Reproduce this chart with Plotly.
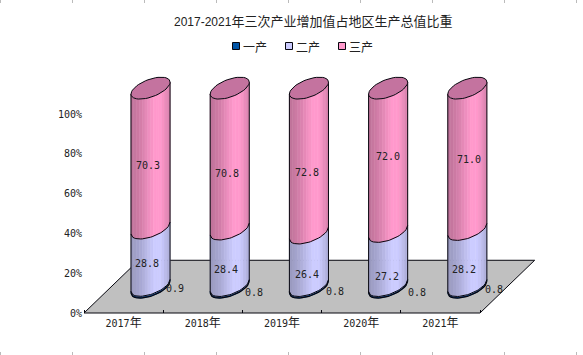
import math
import plotly.graph_objects as go

# ---------- data ----------
categories = ["2017年", "2018年", "2019年", "2020年", "2021年"]
primary = [0.9, 0.8, 0.8, 0.8, 0.8]
secondary = [28.8, 28.4, 26.4, 27.2, 28.2]
tertiary = [70.3, 70.8, 72.8, 72.0, 71.0]
series_names = ["一产", "二产", "三产"]
y_ticks = [0, 20, 40, 60, 80, 100]
title_digits = "2017-2021"
title_rest = "年三次产业增加值占地区生产总值比重"

# ---------- style / layout ----------
W, H = 583, 355
PX_LEFT, PX_RIGHT, PX_TOP, PX_BOTTOM = 84, 480, 114, 313
DEPTH_X, DEPTH_Y = 0.69, 26.5          # floor depth in axis units
CENTER_X, CENTER_Y = 0.34, 13.0        # cylinder position on the floor
ELL_A, ELL_B, ELL_C = 0.207, 0.134, 5.5  # ellipse axes in axis units
BASE_RGB = [(0, 70, 150), (204, 204, 255), (255, 153, 204)]
SHADE = [0.76, 0.78, 0.80, 0.83, 0.86, 0.90, 0.94, 0.97, 1.0, 1.0, 1.0, 0.97, 0.92, 0.87]
TOP_FILL = "#C4739F"
INK = "#06060e"
LABEL_FONT = dict(family="DejaVu Sans Mono, Noto Sans CJK SC", size=10, color="#222")
# per-label pixel nudges (primary, secondary, tertiary) as placed in the reference
LABEL_SHIFT = [
    [(24, 2), (-4, 7), (-3, 7)],
    [(24, 6), (-4, 12), (-3, 15)],
    [(26, 5), (-2, 15), (-2, 12)],
    [(29, 6), (-1, 18), (0, -3)],
    [(27, 3), (-3, 12), (2, 1)],
]

n_cat = len(categories)
PX_PER_CAT = (PX_RIGHT - PX_LEFT) / n_cat
PX_PER_PCT = (PX_BOTTOM - PX_TOP) / 100
X_RANGE = [-0.5 - PX_LEFT / PX_PER_CAT, -0.5 + (W - PX_LEFT) / PX_PER_CAT]
Y_RANGE = [-(H - PX_BOTTOM) / PX_PER_PCT, PX_BOTTOM / PX_PER_PCT]

T0 = math.atan2(ELL_B, ELL_A)


def paper_x(px):
    return px / W


def paper_y(py):
    return 1 - py / H


def rim(cx, level, phi):
    """Point on a cylinder rim; phi measured from the right-hand silhouette."""
    t = T0 + phi
    return (cx + ELL_A * math.cos(t) + ELL_B * math.sin(t),
            level + ELL_C * math.sin(t))


def front_arc(cx, level, s1, s2, n=5):
    """Front rim between silhouette fractions s1 > s2 (1 = right, -1 = left)."""
    pts = []
    for k in range(n + 1):
        s = s1 + (s2 - s1) * k / n
        pts.append(rim(cx, level, -math.acos(max(-1, min(1, s)))))
    return pts


fig = go.Figure()


def add(xs, ys, **kw):
    fig.add_trace(go.Scatter(x=xs, y=ys, hoverinfo="skip", showlegend=False, **kw))


# floor
floor_x = [-0.5, n_cat - 0.5, n_cat - 0.5 + DEPTH_X, -0.5 + DEPTH_X, -0.5]
floor_y = [0, 0, DEPTH_Y, DEPTH_Y, 0]
add(floor_x, floor_y, mode="lines", fill="toself", fillcolor="#C0C0C0",
    line=dict(color=INK, width=1))

# cylinder bodies: one trace per shading band and series
stacks = list(zip(primary, secondary, tertiary))
n_band = len(SHADE)
for sidx in range(3):
    r, g, b = BASE_RGB[sidx]
    for band in range(n_band):
        s_left = -1 + 2 * band / n_band
        s_right = -1 + 2 * (band + 1) / n_band
        f = SHADE[band]
        col = f"rgb({int(r * f)},{int(g * f)},{int(b * f)})"
        xs, ys = [], []
        for i, vals in enumerate(stacks):
            cx = i + CENTER_X
            lo = CENTER_Y + sum(vals[:sidx])
            hi = lo + vals[sidx]
            pts = front_arc(cx, lo, s_right, s_left) + front_arc(cx, hi, s_left, s_right)
            pts.append(pts[0])
            xs += [p[0] for p in pts] + [None]
            ys += [p[1] for p in pts] + [None]
        add(xs, ys, mode="lines", fill="toself", fillcolor=col,
            line=dict(color=col, width=0.6))

# outlines and top caps
for i, vals in enumerate(stacks):
    cx = i + CENTER_X
    level = CENTER_Y
    arc = front_arc(cx, level, 1, -1, 24)
    add([p[0] for p in arc], [p[1] for p in arc], mode="lines",
        line=dict(color=INK, width=1.2))
    for sidx, v in enumerate(vals[:2]):
        level += v
        arc = front_arc(cx, level, 1, -1, 24)
        add([p[0] for p in arc], [p[1] for p in arc], mode="lines",
            line=dict(color=INK, width=1))
    level = CENTER_Y + sum(vals)
    for s in (1, -1):
        p0 = front_arc(cx, CENTER_Y, s, s, 1)[0]
        p1 = front_arc(cx, level, s, s, 1)[0]
        add([p0[0], p1[0]], [p0[1], p1[1]], mode="lines", line=dict(color=INK, width=1))
    cap = [rim(cx, level, 2 * math.pi * k / 48) for k in range(49)]
    add([p[0] for p in cap], [p[1] for p in cap], mode="lines", fill="toself",
        fillcolor=TOP_FILL, line=dict(color=INK, width=1))

# value labels
annotations = []
for i, vals in enumerate(stacks):
    level = CENTER_Y
    for sidx, v in enumerate(vals):
        dx, dy = LABEL_SHIFT[i][sidx]
        annotations.append(dict(x=i + CENTER_X, y=level + v / 2, text=f"{v:.1f}",
                                showarrow=False, xshift=dx, yshift=-dy, font=LABEL_FONT))
        level += v

# title
annotations.append(dict(xref="paper", yref="paper", x=paper_x(312.5), y=paper_y(21),
                        yanchor="middle", xanchor="center",
                        text=f"<span style='font-size:12px'>{title_digits}</span>{title_rest}",
                        showarrow=False,
                        font=dict(family="Liberation Sans, Noto Sans CJK SC", size=13, color="#222")))

# legend swatches and texts, in page coordinates
shapes = []
legend_px = [236, 289, 342]
legend_fill = ["#0054A6", "#CCCCFF", "#FF99CC"]
for px, name, fill in zip(legend_px, series_names, legend_fill):
    shapes.append(dict(type="rect", xref="paper", yref="paper",
                       x0=paper_x(px - 3.5), x1=paper_x(px + 3.5),
                       y0=paper_y(49.5), y1=paper_y(42.5),
                       fillcolor=fill, line=dict(color=INK, width=1)))
    annotations.append(dict(xref="paper", yref="paper", x=paper_x(px + 6), y=paper_y(46),
                            xanchor="left", yanchor="middle", text=name, showarrow=False,
                            borderpad=0, font=dict(family="Noto Sans CJK SC", size=12, color="#222")))

# faint page ruler ticks
for px in range(0, W, 72):
    x = paper_x(px + 0.5)
    for a, b in ((0, 3), (H - 3, H)):
        shapes.append(dict(type="line", xref="paper", yref="paper", x0=x, x1=x,
                           y0=paper_y(a), y1=paper_y(b),
                           line=dict(color="#BBBBBB", width=1)))

tick_text = [f"{c[:-1]}<span style='font-size:12px'>{c[-1]}</span>" for c in categories]

fig.update_layout(
    width=W, height=H, autosize=False,
    margin=dict(l=0, r=0, t=0, b=0),
    paper_bgcolor="white", plot_bgcolor="rgba(0,0,0,0)",
    showlegend=False, annotations=annotations, shapes=shapes,
    xaxis=dict(domain=[0, 1], range=X_RANGE, anchor="free", position=paper_y(PX_BOTTOM),
               tickmode="array", tickvals=list(range(n_cat)), ticktext=tick_text,
               ticks="", showgrid=False, zeroline=False, showline=False,
               tickfont=LABEL_FONT, ticklabelstandoff=3,
               minor=dict(tickmode="array", tickvals=[k + 0.5 for k in range(-1, n_cat)],
                          ticks="inside", ticklen=3, tickcolor=INK, tickwidth=1,
                          showgrid=False)),
    yaxis=dict(domain=[0, 1], range=Y_RANGE, anchor="free", position=paper_x(PX_LEFT),
               tickmode="array", tickvals=y_ticks, ticktext=[f"{v}%" for v in y_ticks],
               ticks="", showgrid=False, zeroline=False, showline=False,
               tickfont=LABEL_FONT, ticklabelstandoff=2),
)

fig.write_html("out.html", config={"displayModeBar": False},
               post_script="document.body.style.margin='0';document.body.style.overflow='hidden';")
